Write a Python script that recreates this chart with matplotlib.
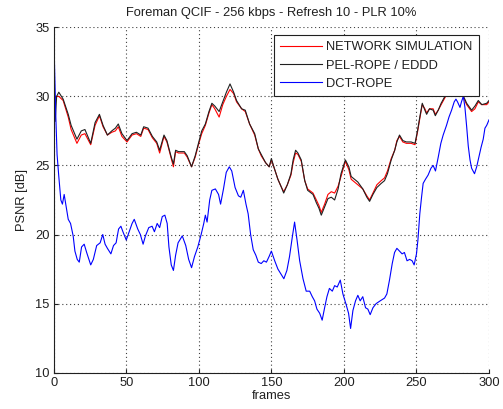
import matplotlib
matplotlib.use("Agg")
import matplotlib.pyplot as plt

# PEL-ROPE / EDDD (black) and NETWORK SIMULATION (red), same frame positions
frames_a = [1, 2, 3.5, 6.5, 10, 12, 16, 19, 21.5, 25.5, 28.5, 31.5, 34, 37, 40, 42.5, 44.5, 47,
            50.5, 54, 57, 60, 62, 65, 68, 71, 73, 76, 78, 81, 82.5, 84, 86, 90, 92, 95, 97.5,
            100, 102, 104.5, 107, 109, 111, 114, 116.5, 119, 121.5, 124, 126, 129.5, 132, 135,
            138.5, 141, 143, 146, 148.5, 150, 152, 154.5, 157, 158.5, 161, 163.5, 165, 166.7,
            168.3, 170.6, 173, 175, 178.7, 181, 182.8, 184.4, 186.7, 189, 191.3, 193.6, 196,
            198, 201, 203.4, 205, 207.3, 209.6, 213, 215.8, 217.7, 220, 222.7, 225.7, 228, 230,
            232.6, 235, 236.5, 238.3, 240.6, 243, 246.3, 249, 250.7, 252.3, 254, 255.8, 257,
            259, 261.5, 263, 265, 267, 269.6, 272, 275, 278, 282, 284.6, 288, 290.3, 292.6,
            295, 298.4, 300]
pel_rope = [28.2, 30.0, 30.3, 29.8, 28.7, 27.9, 26.9, 27.5, 27.6, 26.6, 28.1, 28.7, 27.9, 27.2,
            27.5, 27.7, 28.0, 27.3, 26.8, 27.3, 27.4, 27.2, 27.8, 27.7, 27.1, 26.7, 26.1, 27.2,
            26.8, 25.6, 25.1, 26.1, 26.0, 26.0, 25.7, 24.9, 25.7, 26.7, 27.5, 28.0, 28.9, 29.5,
            29.3, 28.9, 29.6, 30.3, 30.9, 30.3, 29.7, 29.1, 29.0, 28.0, 27.3, 26.2, 25.8, 25.2,
            24.9, 25.5, 24.8, 24.0, 23.4, 23.0, 23.6, 24.4, 25.4, 26.1, 25.9, 25.4, 23.9, 23.2,
            22.9, 22.3, 21.9, 21.4, 22.0, 22.6, 22.7, 22.5, 23.3, 24.4, 25.4, 24.9, 24.2, 24.0,
            23.8, 23.3, 22.7, 22.4, 22.9, 23.4, 23.7, 23.9, 24.4, 25.4, 26.1, 26.7, 27.2, 26.8,
            26.7, 26.7, 26.6, 27.5, 28.5, 29.5, 29.0, 28.7, 29.1, 29.0, 28.6, 29.0, 29.5, 30.0,
            30.4, 30.7, 30.6, 30.1, 29.5, 29.0, 29.3, 29.7, 29.4, 29.5, 29.7]
network_sim = [29.9, 30.0, 30.0, 29.7, 28.5, 27.6, 26.6, 27.2, 27.3, 26.5, 27.9, 28.6, 27.8, 27.2,
               27.4, 27.5, 27.8, 27.1, 26.7, 27.2, 27.3, 27.1, 27.7, 27.6, 27.0, 26.6, 25.9, 27.1,
               26.7, 25.5, 24.9, 26.0, 25.9, 25.9, 25.6, 24.9, 25.6, 26.6, 27.3, 27.9, 28.8, 29.4,
               29.1, 28.5, 29.4, 30.0, 30.5, 30.2, 29.6, 29.1, 28.9, 28.0, 27.2, 26.2, 25.7, 25.2,
               24.9, 25.4, 24.8, 24.0, 23.4, 23.1, 23.6, 24.3, 25.2, 25.9, 25.8, 25.3, 23.9, 23.3,
               23.0, 22.5, 22.1, 21.6, 22.2, 22.9, 23.1, 23.0, 23.5, 24.2, 25.3, 24.7, 24.0, 23.8,
               23.6, 23.3, 22.8, 22.5, 23.0, 23.6, 23.9, 24.1, 24.6, 25.5, 26.1, 26.8, 27.1, 26.7,
               26.6, 26.6, 26.5, 27.4, 28.4, 29.4, 29.1, 28.8, 29.1, 29.1, 28.7, 29.0, 29.4, 29.9,
               30.3, 30.6, 30.5, 30.0, 29.4, 28.9, 29.1, 29.6, 29.4, 29.4, 29.6]

# DCT-ROPE (blue)
frames_b = [0.5, 1.4, 2.3, 3.5, 4.9, 6, 7.2, 8.3, 10, 11.6, 13.4, 14.6, 16.2, 17.6, 19.2, 21,
            22.7, 25.5, 27.3, 29.6, 32, 33.8, 35.4, 37, 39.4, 41.2, 43, 44.7, 46.3, 47.7, 50,
            52.3, 54, 55.5, 57.9, 59.7, 61.6, 63.2, 65.5, 67.8, 69.4, 71.3, 73, 74.8, 76.6,
            78.2, 79.4, 81, 82.5, 84, 85.7, 88.6, 91, 93, 95, 97, 99.3, 101.6, 103.4, 104.5,
            105.7, 107.5, 109, 111.4, 113.6, 115, 117, 118.9, 121, 122.7, 125, 127.3, 128.9,
            130.7, 132.5, 134, 135.7, 137.5, 139.3, 141, 143, 144.8, 146.6, 148.4, 150, 152.3,
            154.5, 156.8, 158.6, 160.7, 162.5, 164.4, 166, 167.7, 169.5, 171.8, 174, 176.4,
            178.2, 179.8, 181.4, 183.3, 185, 186.7, 188.3, 190, 192, 193.6, 195.4, 197.5, 199.3,
            201.6, 203.2, 204.6, 206.2, 208, 209.6, 211.2, 213, 214.9, 216.5, 218.1, 220, 222.2,
            225, 228, 229.6, 231.4, 233.3, 234.9, 236.5, 238.3, 240.1, 241.7, 243.5, 245.3, 247,
            248.4, 250, 251, 252.3, 253.5, 254.6, 256.2, 258, 260, 261.5, 263.1, 265, 266.8,
            268.4, 270.7, 272.4, 274.2, 276, 277.2, 278.3, 280, 281, 282.3, 283.4, 284.6, 285.7,
            286.9, 288, 290, 291.5, 293, 294.5, 296, 297.2, 298.4, 300]
dct_rope = [32.5, 28.7, 25.8, 24.2, 22.5, 22.2, 22.9, 22.2, 21.1, 20.8, 19.9, 18.8, 18.2, 18.0,
            19.1, 19.3, 18.7, 17.8, 18.2, 19.2, 19.4, 20.0, 19.3, 19.0, 18.6, 19.2, 19.4, 20.4,
            20.6, 20.2, 19.6, 20.3, 20.8, 21.1, 20.4, 20.0, 19.3, 19.9, 20.5, 20.6, 20.2, 20.8,
            20.5, 21.3, 21.4, 20.8, 19.1, 17.8, 17.4, 18.5, 19.4, 19.9, 19.2, 18.2, 17.6, 18.4,
            19.1, 20.0, 20.8, 21.4, 20.9, 22.5, 23.2, 23.3, 22.9, 22.2, 23.3, 24.5, 24.9, 24.6,
            23.4, 22.8, 22.7, 23.2, 22.2, 21.5, 20.0, 18.9, 18.5, 18.0, 17.9, 18.1, 18.0, 18.4,
            18.8, 18.1, 17.5, 17.1, 16.8, 17.4, 18.4, 19.8, 20.9, 19.6, 18.1, 16.8, 15.9, 15.9,
            15.5, 15.2, 14.6, 14.3, 13.8, 14.7, 15.5, 16.1, 15.9, 16.3, 16.2, 16.7, 15.7, 14.9,
            14.3, 13.2, 14.5, 15.2, 15.6, 15.2, 15.5, 14.7, 14.6, 14.2, 14.7, 15.0, 15.2, 15.4,
            15.7, 16.7, 17.9, 18.7, 19.0, 18.8, 18.6, 18.7, 18.1, 18.2, 18.1, 17.8, 18.6, 19.6,
            21.5, 22.7, 23.7, 24.0, 24.3, 24.8, 25.0, 24.6, 25.6, 26.6, 27.2, 27.9, 28.5, 29.0,
            29.6, 29.8, 29.6, 29.2, 29.6, 30.0, 29.2, 27.8, 26.4, 25.4, 24.8, 24.4, 24.9, 25.6,
            26.3, 26.9, 27.7, 27.9, 28.3]

plt.rcParams['font.family'] = ['Liberation Sans', 'DejaVu Sans']
fs = 9.3

fig = plt.figure(figsize=(5.03, 4.09), dpi=100)
ax = fig.add_axes([0.1068, 0.0888, 0.8654, 0.8445])

ax.plot(frames_a, network_sim, color='#ff0000', lw=0.8, label='NETWORK SIMULATION')
ax.plot(frames_a, pel_rope, color='#202020', lw=0.8, label='PEL-ROPE / EDDD')
ax.plot(frames_b, dct_rope, color='#0000ff', lw=0.8, label='DCT-ROPE')

ax.set_xlim(0, 300)
ax.set_ylim(10, 35)
ax.set_xticks(range(0, 301, 50))
ax.set_yticks(range(10, 36, 5))
ax.grid(True, color='#404040', linestyle=(0, (1, 2.5)), linewidth=0.8)
ax.tick_params(direction='in', length=3, colors='#202020', labelsize=fs, pad=3)
for s in ['top', 'right']:
    ax.spines[s].set_visible(False)
for s in ['left', 'bottom']:
    ax.spines[s].set_color('#202020')

ax.set_title('Foreman QCIF - 256 kbps - Refresh 10 - PLR 10%', fontsize=fs, pad=8, color='#202020')
ax.set_xlabel('frames', fontsize=fs, labelpad=1, color='#202020')
ax.set_ylabel('PSNR [dB]', fontsize=fs, labelpad=5, color='#202020')

leg = ax.legend(loc='upper right', bbox_to_anchor=(0.977, 0.978), fancybox=False,
                edgecolor='#202020', framealpha=1, borderaxespad=0, fontsize=fs,
                handlelength=3.2, handletextpad=0.35, labelspacing=0.48, borderpad=0.5)
leg.get_frame().set_linewidth(0.8)
for t in leg.get_texts():
    t.set_color('#202020')

fig.savefig('out.png', dpi=100)
